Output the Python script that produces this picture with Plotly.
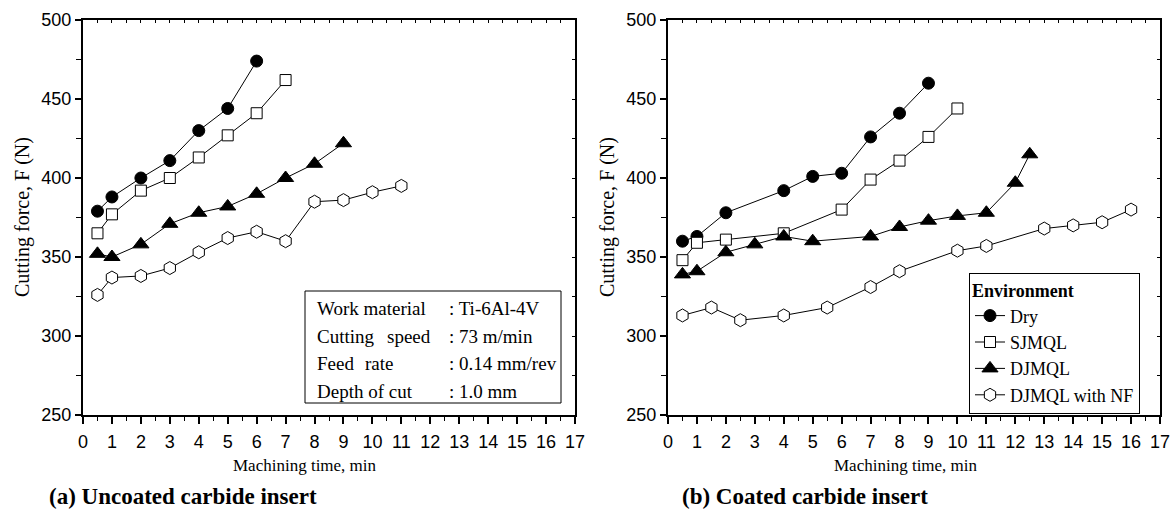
import plotly.graph_objects as go

# ---------------- data ----------------
# (a) Uncoated carbide insert
a_dry_t = [0.5, 1, 2, 3, 4, 5, 6]
a_dry_f = [379, 388, 400, 411, 430, 444, 474]
a_sj_t = [0.5, 1, 2, 3, 4, 5, 6, 7]
a_sj_f = [365, 377, 392, 400, 413, 427, 441, 462]
a_dj_t = [0.5, 1, 2, 3, 4, 5, 6, 7, 8, 9]
a_dj_f = [352, 350, 358, 371, 378, 382, 390, 400, 409, 422]
a_nf_t = [0.5, 1, 2, 3, 4, 5, 6, 7, 8, 9, 10, 11]
a_nf_f = [326, 337, 338, 343, 353, 362, 366, 360, 385, 386, 391, 395]

# (b) Coated carbide insert
b_dry_t = [0.5, 1, 2, 4, 5, 6, 7, 8, 9]
b_dry_f = [360, 363, 378, 392, 401, 403, 426, 441, 460]
b_sj_t = [0.5, 1, 2, 4, 6, 7, 8, 9, 10]
b_sj_f = [348, 359, 361, 365, 380, 399, 411, 426, 444]
b_dj_t = [0.5, 1, 2, 3, 4, 5, 7, 8, 9, 10, 11, 12, 12.5]
b_dj_f = [339, 341, 353, 358, 363, 360, 363, 369, 373, 376, 378, 397, 415]
b_nf_t = [0.5, 1.5, 2.5, 4, 5.5, 7, 8, 10, 11, 13, 14, 15, 16]
b_nf_f = [313, 318, 310, 313, 318, 331, 341, 354, 357, 368, 370, 372, 380]

series_names = ["Dry", "SJMQL", "DJMQL", "DJMQL with NF"]
x_ticks = list(range(0, 18))
y_ticks = [250, 300, 350, 400, 450, 500]

box_values = [": Ti-6Al-4V", ": 73 m/min", ": 0.14 mm/rev", ": 1.0 mm"]

# ---------------- styling ----------------
W, H = 1174, 516
SERIF = "Liberation Serif, Times New Roman, serif"
SANS = "Liberation Sans, Arial, sans-serif"

def px(xp):
    return xp / W

def py(yp):
    return 1 - yp / H

styles = [
    dict(symbol="circle", size=12, color="black", line=dict(color="black", width=1)),
    dict(symbol="square", size=11, color="white", line=dict(color="black", width=1)),
    dict(symbol="triangle-up", size=14, color="black", line=dict(color="black", width=1)),
    dict(symbol="hexagon", size=13, color="white", line=dict(color="black", width=1)),
]

fig = go.Figure()

a_sets = [(a_dry_t, a_dry_f), (a_sj_t, a_sj_f), (a_dj_t, a_dj_f), (a_nf_t, a_nf_f)]
b_sets = [(b_dry_t, b_dry_f), (b_sj_t, b_sj_f), (b_dj_t, b_dj_f), (b_nf_t, b_nf_f)]

for (t, f), st, nm in zip(a_sets, styles, series_names):
    fig.add_trace(go.Scatter(x=t, y=f, mode="lines+markers", name=nm, showlegend=False,
                             line=dict(color="black", width=1), marker=st,
                             xaxis="x", yaxis="y", cliponaxis=False))
for (t, f), st, nm in zip(b_sets, styles, series_names):
    fig.add_trace(go.Scatter(x=t, y=f, mode="lines+markers", name=nm, showlegend=True,
                             line=dict(color="black", width=1), marker=st,
                             xaxis="x2", yaxis="y2", cliponaxis=False))

dom_y = [py(415), py(20)]
dom_xa = [px(83), px(575)]
dom_xb = [px(668), px(1160)]

def xax(domain, anchor):
    return dict(domain=domain, anchor=anchor, range=[0, 17], tickvals=x_ticks, automargin=False,
                ticks="outside", ticklen=7, tickwidth=1.5, tickcolor="black",
                minor=dict(dtick=0.5, tick0=0, ticks="outside", ticklen=4, tickcolor="black", tickwidth=1),
                showline=True, linecolor="black", linewidth=2, mirror=True,
                showgrid=False, zeroline=False,
                tickfont=dict(family=SANS, size=18, color="black"), ticklabelstandoff=2)

def yax(anchor):
    return dict(domain=dom_y, anchor=anchor, range=[250, 500], tickvals=y_ticks, automargin=False,
                ticks="outside", ticklen=6, tickwidth=1.5, tickcolor="black",
                minor=dict(dtick=25, tick0=250, ticks="outside", ticklen=5, tickcolor="black", tickwidth=1),
                showline=True, linecolor="black", linewidth=2, mirror=True,
                showgrid=False, zeroline=False,
                tickfont=dict(family=SANS, size=18, color="black"))

def xtop(domain, ov, anchor):
    return dict(domain=domain, overlaying=ov, anchor=anchor, side="top", range=[0, 17], automargin=False,
                dtick=0.5, tick0=0, ticks="inside", ticklen=3, tickcolor="black",
                showticklabels=False, showline=False, showgrid=False, zeroline=False)

def yright(ov, anchor):
    return dict(domain=dom_y, overlaying=ov, anchor=anchor, side="right", range=[250, 500], automargin=False,
                dtick=25, tick0=250, ticks="inside", ticklen=3, tickcolor="black",
                showticklabels=False, showline=False, showgrid=False, zeroline=False)

layout = dict(
    width=W, height=H,
    margin=dict(l=0, r=0, t=0, b=0, pad=0, autoexpand=False),
    paper_bgcolor="white", plot_bgcolor="white",
    xaxis=xax(dom_xa, "y"), yaxis=yax("x"),
    xaxis2=xax(dom_xb, "y2"), yaxis2=yax("x2"),
    xaxis3=xtop(dom_xa, "x", "y"), yaxis3=yright("y", "x"),
    xaxis4=xtop(dom_xb, "x2", "y2"), yaxis4=yright("y2", "x2"),
    legend=dict(x=px(969), y=py(273), xanchor="left", yanchor="top",
                bordercolor="black", borderwidth=1, bgcolor="white",
                font=dict(family=SERIF, size=18, color="black"),
                title=dict(text="<b>Environment</b>", font=dict(family=SERIF, size=18, color="black")),
                tracegroupgap=0, itemwidth=30),
    showlegend=True,
)
fig.update_layout(**layout)
fig.add_trace(go.Scatter(x=[None], y=[None], xaxis="x3", yaxis="y3", showlegend=False, hoverinfo="skip"))
fig.add_trace(go.Scatter(x=[None], y=[None], xaxis="x4", yaxis="y4", showlegend=False, hoverinfo="skip"))

ann = []
def text(x, y, s, size, xanchor="center", bold=False, family=SERIF, angle=0):
    ann.append(dict(x=px(x), y=py(y), xref="paper", yref="paper", text=("<b>%s</b>" % s) if bold else s,
                    showarrow=False, xanchor=xanchor, yanchor="middle", textangle=angle,
                    font=dict(family=family, size=size, color="black")))

text(22, 217, "Cutting force, F (N)", 20, angle=-90)
text(607, 217, "Cutting force, F (N)", 20, angle=-90)
text(305, 465, "Machining time, min", 17)
text(906, 465, "Machining time, min", 17)
text(183, 496, "(a) Uncoated carbide insert", 23, bold=True)
text(805, 496, "(b) Coated carbide insert", 23, bold=True)

row_y = [308, 336, 363, 391]
text(315, row_y[0], "Work material", 19, xanchor="left")
text(315, row_y[1], "Cutting", 19, xanchor="left")
text(433, row_y[1], "speed", 19, xanchor="right")
text(315, row_y[2], "Feed", 19, xanchor="left")
text(363, row_y[2], "rate", 19, xanchor="left")
text(315, row_y[3], "Depth of cut", 19, xanchor="left")
for yv, val in zip(row_y, box_values):
    text(447, yv, val, 19, xanchor="left")

fig.update_layout(annotations=ann,
                  shapes=[dict(type="rect", xref="paper", yref="paper",
                               x0=px(305), x1=px(561), y0=py(403), y1=py(291),
                               line=dict(color="black", width=1), fillcolor="rgba(0,0,0,0)")])

fig.write_html("out.html")
